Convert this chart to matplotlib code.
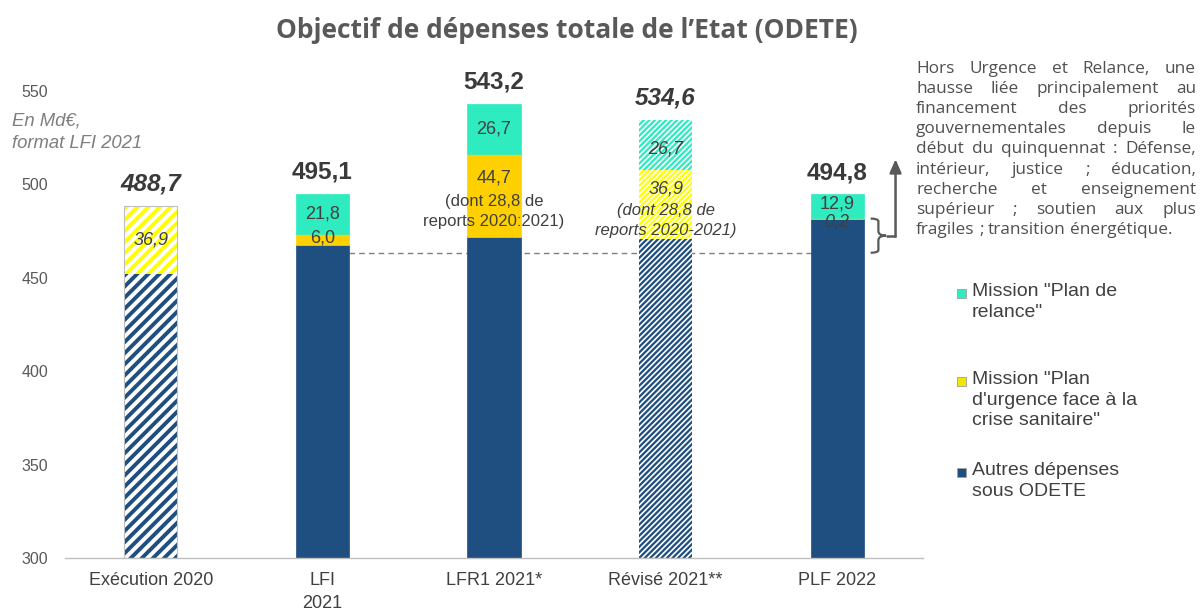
import matplotlib
matplotlib.use("Agg")
import matplotlib.pyplot as plt
from matplotlib.patches import Rectangle, PathPatch
from matplotlib.path import Path

# ---------------- data ----------------
categories = ["Exécution 2020", "LFI\n2021", "LFR1 2021*", "Révisé 2021**", "PLF 2022"]
autres = [451.8, 467.3, 471.8, 471.0, 481.7]
urgence = [36.9, 6.0, 44.7, 36.9, 0.2]
relance = [0.0, 21.8, 26.7, 26.7, 12.9]
totals = [488.7, 495.1, 543.2, 534.6, 494.8]
total_labels = ["488,7", "495,1", "543,2", "534,6", "494,8"]
urgence_labels = ["36,9", "6,0", "44,7", "36,9", "0,2"]
relance_labels = ["", "21,8", "26,7", "26,7", "12,9"]
yticks = [300, 350, 400, 450, 500, 550]
ref_level = 463.4  # dashed reference line

legend_labels = ['Mission "Plan de\nrelance"',
                 'Mission "Plan\nd\'urgence face à la\ncrise sanitaire"',
                 'Autres dépenses\nsous ODETE']

note_lines = ["Hors Urgence et Relance, une",
              "hausse liée principalement au",
              "financement des priorités",
              "gouvernementales depuis le",
              "début du quinquennat : Défense,",
              "intérieur, justice ; éducation,",
              "recherche et enseignement",
              "supérieur ; soutien aux plus",
              "fragiles ; transition énergétique."]

# ---------------- style ----------------
NAVY = "#1F4E80"
TEAL = "#2EEBC0"
GOLD = "#FFD000"
YEL = "#FFFF00"
GREY_TXT = "#595959"
DARK_TXT = "#404040"
SANS = ["Liberation Sans", "DejaVu Sans"]
NARROW = ["Liberation Sans Narrow", "Liberation Sans", "DejaVu Sans"]

fig = plt.figure(figsize=(12, 6.1), dpi=100)
ax = fig.add_axes([65 / 1200, 1 - 558 / 610, (923 - 65) / 1200, (558 - 91) / 610])
ax.set_xlim(-0.5, 4.5)
ax.set_ylim(300, 550)

W = 0.31
styles = ["coarse", "solid", "solid", "fine", "solid"]


def seg(x, bottom, height, color, style):
    if height <= 0:
        return
    if style == "solid":
        ax.bar(x, height, W, bottom=bottom, color=color, edgecolor=color, linewidth=0.5, zorder=2)
    elif style == "coarse":
        lw = 2.8
        with plt.rc_context({"hatch.linewidth": lw}):
            b = ax.bar(x, height, W, bottom=bottom, facecolor="white", edgecolor=color,
                       hatch="///", linewidth=0, zorder=2)
        for p in b:
            if hasattr(p, "set_hatch_linewidth"):
                p.set_hatch_linewidth(lw)
    else:  # fine
        lw = 1.2
        with plt.rc_context({"hatch.linewidth": lw}):
            b = ax.bar(x, height, W, bottom=bottom, facecolor=color, edgecolor="white",
                       hatch="//////", linewidth=0, zorder=2)
        for p in b:
            if hasattr(p, "set_hatch_linewidth"):
                p.set_hatch_linewidth(lw)


for i in range(len(categories)):
    st = styles[i]
    ycol = YEL if st != "solid" else GOLD
    seg(i, 300, autres[i] - 300, NAVY, st)
    seg(i, autres[i], urgence[i], ycol, st)
    seg(i, autres[i] + urgence[i], relance[i], TEAL, st)
    if st == "coarse":
        ax.add_patch(Rectangle((i - W / 2, 300), W, totals[i] - 300, fill=False,
                               edgecolor="#BFBFBF", linewidth=0.8, zorder=3))

# total labels
for i, t in enumerate(total_labels):
    ital = styles[i] != "solid"
    ax.text(i, totals[i] + 11.5, t, ha="center", va="center", fontsize=17.5, fontweight="bold",
            style="italic" if ital else "normal", color="#3A3A3A", family=SANS, clip_on=False)

# inner labels
lab_kw = dict(ha="center", va="center", color=DARK_TXT, family=SANS, zorder=5)
ax.text(0, autres[0] + urgence[0] / 2, urgence_labels[0], fontsize=13, style="italic", **lab_kw)
ax.text(1, autres[1] + urgence[1] + relance[1] / 2, relance_labels[1], fontsize=13, **lab_kw)
ax.text(1, autres[1] + urgence[1] / 2 + 0.8, urgence_labels[1], fontsize=13, **lab_kw)
ax.text(2, autres[2] + urgence[2] + relance[2] / 2, relance_labels[2], fontsize=13, **lab_kw)
ax.text(2, 503.4, urgence_labels[2], fontsize=13, **lab_kw)
ax.text(2, 485.5, "(dont 28,8 de\nreports 2020:2021)", fontsize=12, linespacing=1.35, **lab_kw)
ax.text(3, autres[3] + urgence[3] + relance[3] / 2 - 2.5, relance_labels[3], fontsize=13,
        style="italic", **lab_kw)
ax.text(3, 497.5, urgence_labels[3], fontsize=13, style="italic", **lab_kw)
ax.text(3, 480.7, "(dont 28,8 de\nreports 2020-2021)", fontsize=12, style="italic",
        linespacing=1.35, **lab_kw)
ax.text(4, 489.3, relance_labels[4], fontsize=13, **lab_kw)
ax.text(4, 479.8, urgence_labels[4], fontsize=13, style="italic", **lab_kw)

# dashed reference line
ax.plot([1 + W / 2, 4 - W / 2], [ref_level, ref_level], ls=(0, (4, 3)), color="#7F7F7F",
        lw=1.0, zorder=1)

# brace
x0, x1 = 4.195, 4.285
ytop, ybot = autres[4], ref_level
ymid = (ytop + ybot) / 2
verts = [(x0, ytop), (x0 + 0.045, ytop), (x0 + 0.045, ytop - 1.5), (x0 + 0.045, ymid + 2.5),
         (x0 + 0.045, ymid), (x1, ymid), (x0 + 0.045, ymid), (x0 + 0.045, ymid - 2.5),
         (x0 + 0.045, ybot + 1.5), (x0 + 0.045, ybot), (x0, ybot)]
codes = [Path.MOVETO, Path.CURVE3, Path.CURVE3, Path.LINETO, Path.CURVE3, Path.CURVE3,
         Path.CURVE3, Path.CURVE3, Path.LINETO, Path.CURVE3, Path.CURVE3]
ax.add_patch(PathPatch(Path(verts, codes), fill=False, edgecolor="#595959", lw=1.6,
                       clip_on=False, zorder=4))
xa = 4.34
ax.plot([x1, xa], [ymid, ymid], color="#595959", lw=1.8, clip_on=False, solid_capstyle="butt")
ax.annotate("", xy=(xa, 513.5), xytext=(xa, ymid - 0.5),
            arrowprops=dict(arrowstyle="-|>,head_length=0.8,head_width=0.35", color="#595959",
                            lw=1.8, shrinkA=0, shrinkB=0), annotation_clip=False)

# axes styling
for s in ["top", "right", "left"]:
    ax.spines[s].set_visible(False)
ax.spines["bottom"].set_color("#BFBFBF")
ax.spines["bottom"].set_linewidth(1.0)
ax.set_yticks(yticks)
ax.set_yticklabels([str(v) for v in yticks], family=SANS, fontsize=11.5, color=GREY_TXT)
ax.tick_params(axis="y", length=0, pad=12)
ax.set_xticks(range(len(categories)))
ax.set_xticklabels(categories, family=NARROW, fontsize=13, color=DARK_TXT, linespacing=1.45)
ax.tick_params(axis="x", length=0, pad=10)

# title
fig.text(567 / 1200, 1 - 30 / 610, "Objectif de dépenses totale de l\u2019Etat (ODETE)",
         ha="center", va="center", fontsize=19, fontweight="bold", color=GREY_TXT,
         family=["Open Sans", "DejaVu Sans"])

# unit note
fig.text(12 / 1200, 1 - 132 / 610, "En Md€,\nformat LFI 2021", ha="left", va="center",
         fontsize=13.3, style="italic", color="#7F7F7F", family=SANS, linespacing=1.4)

# legend
leg_colors = [TEAL, "#F2E600", NAVY]
leg_tops = [293, 381, 472]
for c, lab, yt in zip(leg_colors, legend_labels, leg_tops):
    fig.patches.append(Rectangle((957 / 1200, 1 - (yt + 5) / 610), 9 / 1200, 9 / 610,
                                 transform=fig.transFigure, facecolor=c,
                                 edgecolor="#A0A0A0", linewidth=0.6))
    fig.text(972 / 1200, 1 - (yt - 10) / 610, lab, ha="left", va="top", fontsize=14,
             color=DARK_TXT, family=SANS, linespacing=1.28)

# justified note text
NOTE_FONT = ["Open Sans", "DejaVu Sans"]
NFS = 12.4
fig.canvas.draw()
renderer = fig.canvas.get_renderer()
left_px, right_px = 916, 1196
top_px, step = 69, 20.1
for k, line in enumerate(note_lines):
    ypx = top_px + k * step
    words = line.split(" ")
    tmp = [fig.text(0, 0, w, fontsize=NFS, family=NOTE_FONT) for w in words]
    widths = [t.get_window_extent(renderer).width for t in tmp]
    for t in tmp:
        t.remove()
    sp = fig.text(0, 0, "a a", fontsize=NFS, family=NOTE_FONT)
    sa = fig.text(0, 0, "aa", fontsize=NFS, family=NOTE_FONT)
    natural_gap = sp.get_window_extent(renderer).width - sa.get_window_extent(renderer).width
    sp.remove(); sa.remove()
    if k == len(note_lines) - 1:
        gap = natural_gap
    else:
        gap = (right_px - left_px - sum(widths)) / (len(words) - 1)
        gap = max(gap, natural_gap * 0.6)
    x = left_px
    for w, wd in zip(words, widths):
        fig.text(x / 1200, 1 - ypx / 610, w, ha="left", va="center", fontsize=NFS,
                 family=NOTE_FONT, color="#505050")
        x += wd + gap

fig.savefig("out.png", dpi=100)
